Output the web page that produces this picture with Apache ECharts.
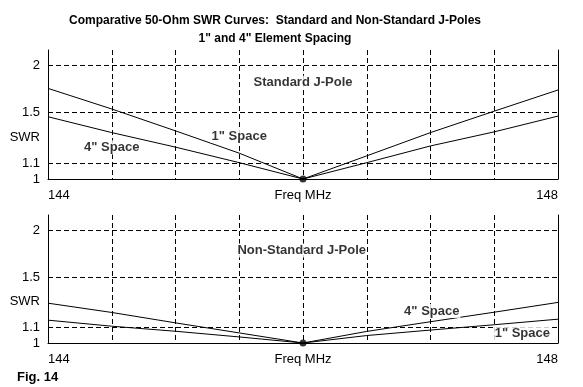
<!DOCTYPE html>
<html>
<head>
<meta charset="utf-8">
<script src="https://cdn.jsdelivr.net/npm/echarts@6/dist/echarts.min.js"></script>
<style>
html,body{margin:0;padding:0;background:#fff;}
#c{width:583px;height:387px;}
</style>
</head>
<body>
<div id="c"></div>
<script>
// ---- data ----
const freq = [144, 144.5, 145, 145.5, 146, 146.5, 147, 147.5, 148];
const std1in = [1.74, 1.534, 1.342, 1.171, 1.0, 1.152, 1.328, 1.514, 1.723];
const std4in = [1.463, 1.328, 1.215, 1.105, 1.0, 1.105, 1.224, 1.334, 1.469];
const non4in = [1.278, 1.207, 1.132, 1.064, 1.0, 1.074, 1.140, 1.209, 1.284];
const non1in = [1.151, 1.109, 1.075, 1.038, 1.0, 1.047, 1.083, 1.119, 1.158];
const minPoint = [146, 1.0];
const yTicks = [1, 1.1, 1.5, 2];
const xLabels = {144: '144', 146: 'Freq MHz', 148: '148'};
const swrLabelAt = 1.29;

const titleText = 'Comparative 50-Ohm SWR Curves:  Standard and Non-Standard J-Poles\n1" and 4" Element Spacing';

// annotations in data coordinates [freq, swr, text]
const topNotes = [[146.0, 1.80, 'Standard J-Pole'], [145.5, 1.30, '1" Space'], [144.5, 1.212, '4" Space']];
const botNotes = [[145.99, 1.767, 'Non-Standard J-Pole'], [147.01, 1.217, '4" Space'], [147.72, 1.064, '1" Space']];

const FONT = '"Liberation Sans", Arial, sans-serif';
const zip = (ys) => freq.map((f, i) => [f, ys[i]]);

function xAxisFor(gi) {
  return {
    type: 'value', gridIndex: gi, min: 144, max: 148, interval: 0.5,
    axisLine: {show: true, onZero: false, lineStyle: {color: '#000', width: 1}},
    axisTick: {show: false},
    splitLine: {show: true, lineStyle: {color: '#000', type: [5, 3], width: 1}},
    axisLabel: {
      customValues: [144, 146, 148],
      formatter: v => xLabels[v] || '',
      color: '#000', fontFamily: FONT, fontSize: 13, margin: 10,
      alignMinLabel: 'left', alignMaxLabel: 'right'
    }
  };
}
function yAxisFor(gi) {
  return {
    type: 'log', gridIndex: gi, min: 1, max: 2.2, logBase: 10,
    axisLine: {show: true, lineStyle: {color: '#000', width: 1}},
    axisTick: {show: false},
    splitLine: {show: false},
    axisLabel: {
      customValues: yTicks.concat([swrLabelAt]),
      formatter: v => (Math.abs(v - swrLabelAt) < 1e-6 ? 'SWR' : String(v)),
      color: '#000', fontFamily: FONT, fontSize: 13, margin: 8
    }
  };
}
function rightAxisFor(gi) {
  return {
    type: 'log', gridIndex: gi, min: 1, max: 2.2, position: 'right',
    axisLine: {show: true, lineStyle: {color: '#000', width: 1}},
    axisTick: {show: false}, axisLabel: {show: false}, splitLine: {show: false}
  };
}
function lineSeries(gi, ys, withGrid) {
  const s = {
    type: 'line', xAxisIndex: gi, yAxisIndex: gi * 2, data: zip(ys),
    showSymbol: false, symbol: 'none', silent: true,
    lineStyle: {color: '#000', width: 1}, z: 5
  };
  if (withGrid) {
    s.markLine = {
      silent: true, symbol: 'none', label: {show: false},
      lineStyle: {color: '#000', type: [5, 3], width: 1},
      data: yTicks.filter(v => v > 1).map(v => ({yAxis: v}))
    };
  }
  return s;
}
function noteSeries(gi, notes) {
  return {
    type: 'scatter', xAxisIndex: gi, yAxisIndex: gi * 2, silent: true,
    symbolSize: 0, data: notes.map(n => ({value: [n[0], n[1]], name: n[2]})),
    label: {show: true, position: 'inside', formatter: p => p.name,
      color: '#000', fontFamily: FONT, fontWeight: 'bold', fontSize: 13,
      backgroundColor: '#fff', padding: [1, 1, 0, 1]},
    z: 10
  };
}
function dotSeries(gi) {
  return {
    type: 'scatter', xAxisIndex: gi, yAxisIndex: gi * 2, silent: true,
    data: [minPoint], symbol: 'circle', symbolSize: 7, clip: false,
    itemStyle: {color: '#000'}, z: 11
  };
}

const chart = echarts.init(document.getElementById('c'), null, {renderer: 'canvas'});
chart.setOption({
  animation: false,
  backgroundColor: '#fff',
  title: [
    {text: titleText, left: 270, top: 7, textAlign: 'center',
     textStyle: {fontFamily: FONT, fontWeight: 'bold', fontSize: 12, color: '#000', lineHeight: 18}},
    {text: 'Fig. 14', left: 12, top: 366,
     textStyle: {fontFamily: FONT, fontWeight: 'bold', fontSize: 13, color: '#000'}}
  ],
  grid: [
    {left: 48, right: 25, top: 50, height: 129},
    {left: 48, right: 25, top: 215, height: 128}
  ],
  xAxis: [xAxisFor(0), xAxisFor(1)],
  yAxis: [yAxisFor(0), rightAxisFor(0), yAxisFor(1), rightAxisFor(1)],
  series: [
    lineSeries(0, std1in, true),
    lineSeries(0, std4in, false),
    noteSeries(0, topNotes),
    dotSeries(0),
    lineSeries(1, non4in, true),
    lineSeries(1, non1in, false),
    noteSeries(1, botNotes),
    dotSeries(1)
  ]
});
</script>
</body>
</html>
